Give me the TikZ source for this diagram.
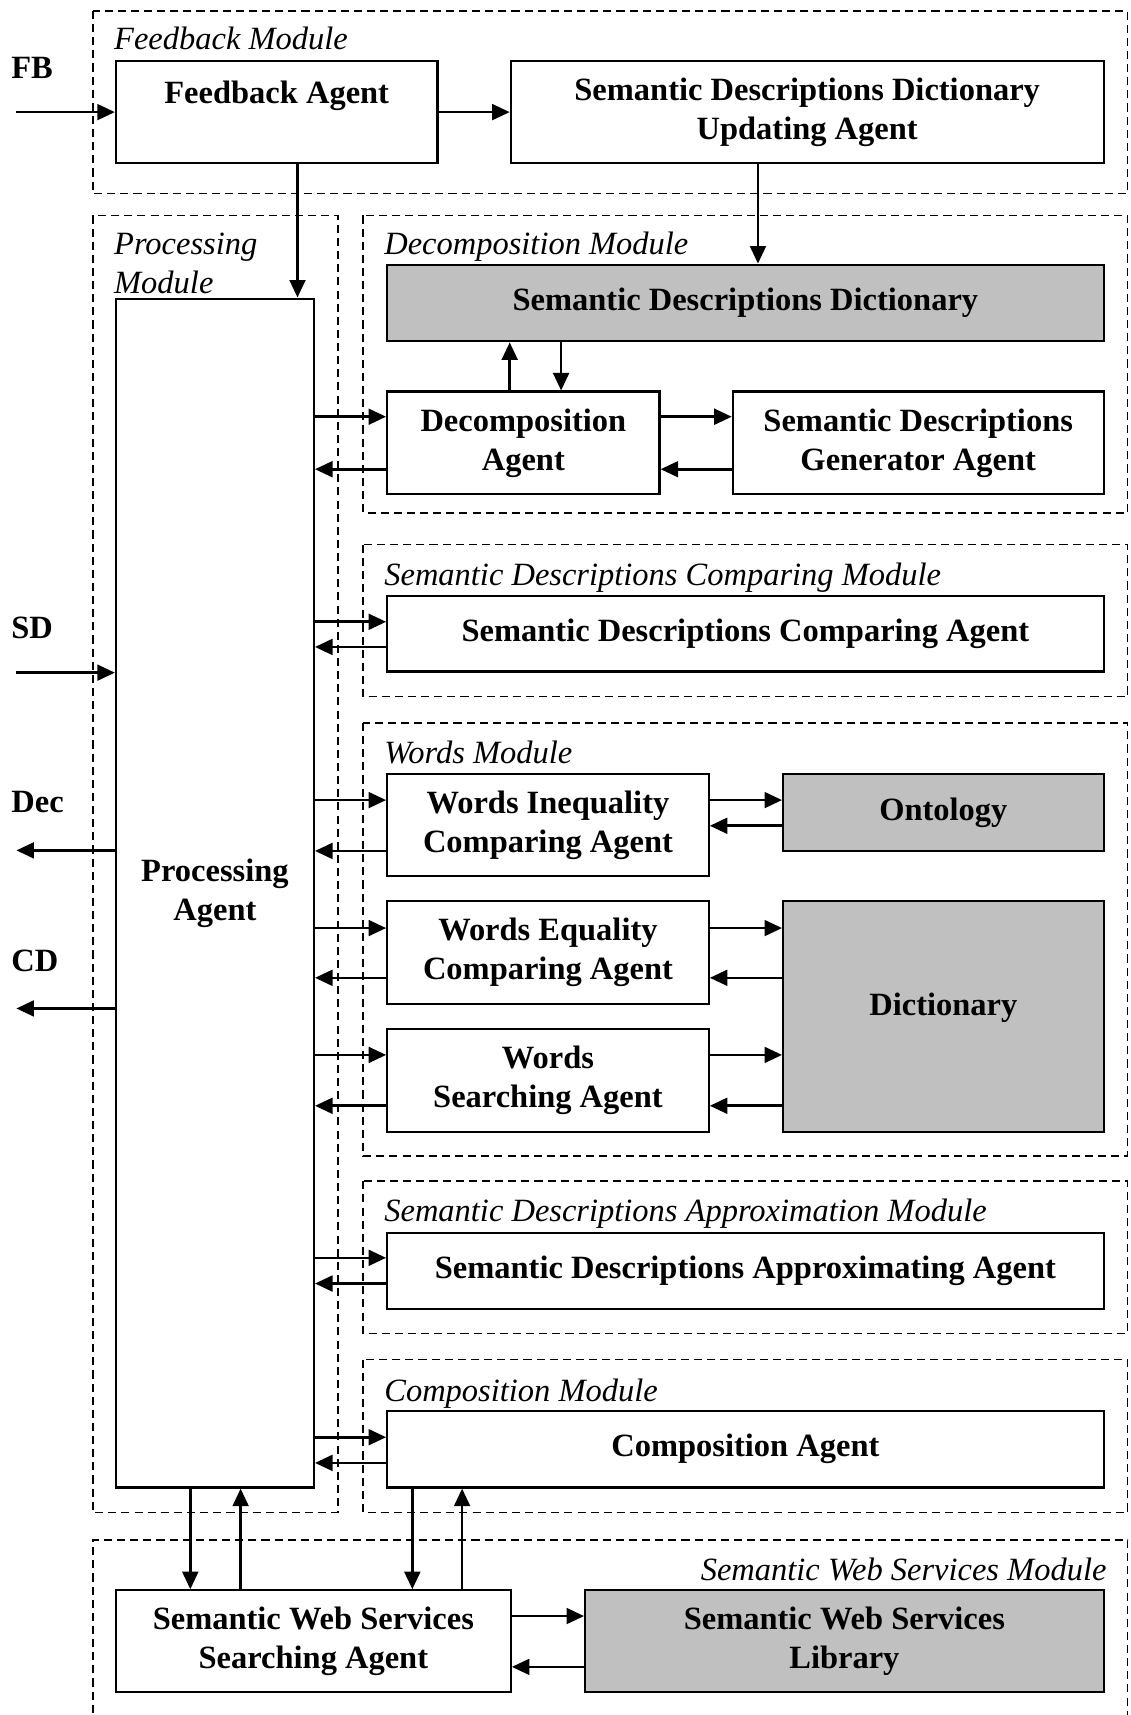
\documentclass[tikz,border=0pt]{standalone}
\usepackage{fontspec}
\setmainfont{Liberation Serif}
\usetikzlibrary{arrows.meta}
\definecolor{boxgray}{HTML}{C0C0C0}
\begin{document}
\begin{tikzpicture}[x=0.5pt,y=-0.5pt,
  font=\fontsize{14.85}{17.8}\selectfont,
  box/.style={draw, line width=1pt, fill=white, align=center, inner sep=0pt, font=\fontsize{14.85}{17.8}\selectfont\bfseries},
  graybox/.style={box, fill=boxgray},
  frame/.style={draw, line width=0.7pt, dash pattern=on 3.7pt off 2.3pt},
  modlabel/.style={anchor=base west, inner sep=0pt, font=\fontsize{14.85}{17.8}\selectfont\itshape},
  iolabel/.style={anchor=base west, inner sep=0pt, font=\fontsize{14.85}{17.8}\selectfont\bfseries},
  arr/.style={-{Triangle[length=8pt,width=7.2pt]}, line width=1.2pt}]
\useasboundingbox (0,0) rectangle (1034,1568);

% module frames
\draw[frame] (85,10) rectangle (1031,177);
\draw[frame] (85,197) rectangle (309,1383);
\draw[frame] (332,197) rectangle (1031,469);
\draw[frame] (332,498) rectangle (1031,637);
\draw[frame] (332,661) rectangle (1031,1057);
\draw[frame] (332,1080) rectangle (1031,1219);
\draw[frame] (332,1243) rectangle (1031,1383);
\draw[frame] (85,1590) -- (85,1408) -- (1031,1408) -- (1031,1590);

% module labels
\node[modlabel] (lfb) at (104,45) {Feedback Module};
\node[modlabel] (lpm1) at (104,233) {Processing};
\node[modlabel] (lpm2) at (104,268) {Module};
\node[modlabel] (ldm) at (351,233) {Decomposition Module};
\node[modlabel] (lsdc) at (351,535) {Semantic Descriptions Comparing Module};
\node[modlabel] (lwm) at (351,698) {Words Module};
\node[modlabel] (lsda) at (351,1117) {Semantic Descriptions Approximation Module};
\node[modlabel] (lcm) at (351,1281) {Composition Module};
\node[modlabel, anchor=base east] (lsws) at (1012,1445) {Semantic Web Services Module};

% io labels
\node[iolabel] (tfb) at (10,72) {FB};
\node[iolabel] (tsd) at (10,584) {SD};
\node[iolabel] (tdec) at (10,743) {Dec};
\node[iolabel] (tcd) at (10,888) {CD};

% boxes
\node[box, minimum width=147pt, minimum height=46.5pt] (fa) at (253,102.5) {Feedback Agent\\\mbox{}};
\node[box, minimum width=271pt, minimum height=46.5pt] (sddu) at (738,102.5) {Semantic Descriptions Dictionary\\Updating Agent};
\node[box, minimum width=90.5pt, minimum height=543.5pt] (pa) at (196.5,816.5) {Processing\\Agent};
\node[graybox, minimum width=327.5pt, minimum height=35pt] (sdd) at (681.5,277) {Semantic Descriptions Dictionary};
\node[box, minimum width=124.5pt, minimum height=47pt] (da) at (478.5,405) {Decomposition\\Agent};
\node[box, minimum width=169.5pt, minimum height=47pt] (sdg) at (839.5,405) {Semantic Descriptions\\Generator Agent};
\node[box, minimum width=327.5pt, minimum height=34.5pt] (sdc) at (681.5,579.5) {Semantic Descriptions Comparing Agent};
\node[box, minimum width=147pt, minimum height=46.5pt] (wic) at (501,754.5) {Words Inequality\\Comparing Agent};
\node[graybox, minimum width=146.5pt, minimum height=35pt] (ont) at (862.5,743) {Ontology};
\node[box, minimum width=147pt, minimum height=47pt] (wec) at (501,871) {Words Equality\\Comparing Agent};
\node[graybox, minimum width=146.5pt, minimum height=105.5pt] (dict) at (862.5,929.5) {Dictionary\\[-6pt]\mbox{}};
\node[box, minimum width=147pt, minimum height=47pt] (ws) at (501,988) {Words\\Searching Agent};
\node[box, minimum width=327.5pt, minimum height=35pt] (sda) at (681.5,1162) {Semantic Descriptions Approximating Agent};
\node[box, minimum width=327.5pt, minimum height=35pt] (ca) at (681.5,1325) {Composition Agent};
\node[box, minimum width=180.5pt, minimum height=46.5pt] (swss) at (286.5,1500.5) {Semantic Web Services\\Searching Agent};
\node[graybox, minimum width=237pt, minimum height=46.5pt] (lib) at (772,1500.5) {Semantic Web Services\\Library};

% outside coordinates
\coordinate (fbin) at (15,102.5);
\coordinate (sdin) at (15,615);
\coordinate (decout) at (15,777.5);
\coordinate (cdout) at (15,922);

% connectors
\draw[arr] (fbin) -- (fa.west);
\draw[arr] (fa.east) -- (sddu.west);
\draw[arr] (fa.south -| 272,0) -- (pa.north -| 272,0);
\draw[arr] (sddu.south -| 693,0) -- (sdd.north -| 693,0);
\draw[arr] (da.north -| 466,0) -- (sdd.south -| 466,0);
\draw[arr] (sdd.south -| 513,0) -- (da.north -| 513,0);
\draw[arr] (da.east |- 0,381) -- (sdg.west |- 0,381);
\draw[arr] (sdg.west |- 0,429) -- (da.east |- 0,429);
\draw[arr] (pa.east |- 0,381) -- (da.west |- 0,381);
\draw[arr] (da.west |- 0,429) -- (pa.east |- 0,429);
\draw[arr] (pa.east |- 0,568.5) -- (sdc.west |- 0,568.5);
\draw[arr] (sdc.west |- 0,591.5) -- (pa.east |- 0,591.5);
\draw[arr] (pa.east |- 0,731.5) -- (wic.west |- 0,731.5);
\draw[arr] (wic.west |- 0,778) -- (pa.east |- 0,778);
\draw[arr] (wic.east |- 0,731.5) -- (ont.west |- 0,731.5);
\draw[arr] (ont.west |- 0,755) -- (wic.east |- 0,755);
\draw[arr] (pa.east |- 0,848.5) -- (wec.west |- 0,848.5);
\draw[arr] (wec.west |- 0,894) -- (pa.east |- 0,894);
\draw[arr] (wec.east |- 0,848.5) -- (dict.west |- 0,848.5);
\draw[arr] (dict.west |- 0,894) -- (wec.east |- 0,894);
\draw[arr] (pa.east |- 0,964.5) -- (ws.west |- 0,964.5);
\draw[arr] (ws.west |- 0,1011) -- (pa.east |- 0,1011);
\draw[arr] (ws.east |- 0,964.5) -- (dict.west |- 0,964.5);
\draw[arr] (dict.west |- 0,1011) -- (ws.east |- 0,1011);
\draw[arr] (pa.east |- 0,1150) -- (sda.west |- 0,1150);
\draw[arr] (sda.west |- 0,1173.5) -- (pa.east |- 0,1173.5);
\draw[arr] (pa.east |- 0,1314) -- (ca.west |- 0,1314);
\draw[arr] (ca.west |- 0,1337.5) -- (pa.east |- 0,1337.5);
\draw[arr] (pa.south -| 174,0) -- (swss.north -| 174,0);
\draw[arr] (swss.north -| 220,0) -- (pa.south -| 220,0);
\draw[arr] (ca.south -| 377,0) -- (swss.north -| 377,0);
\draw[arr] (swss.north -| 422.5,0) -- (ca.south -| 422.5,0);
\draw[arr] (swss.east |- 0,1477.5) -- (lib.west |- 0,1477.5);
\draw[arr] (lib.west |- 0,1524) -- (swss.east |- 0,1524);
\draw[arr] (sdin) -- (pa.west |- sdin);
\draw[arr] (pa.west |- decout) -- (decout);
\draw[arr] (pa.west |- cdout) -- (cdout);
\end{tikzpicture}
\end{document}
